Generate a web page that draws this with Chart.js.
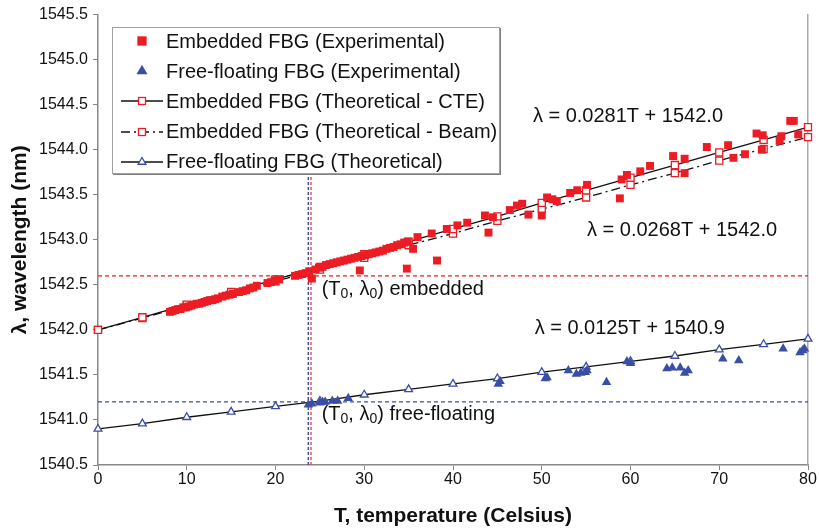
<!DOCTYPE html>
<html>
<head>
<meta charset="utf-8">
<script src="https://cdn.jsdelivr.net/npm/chart.js@4.4.1/dist/chart.umd.min.js"></script>
<style>
  html, body { margin: 0; padding: 0; background: #fff; }
  #wrap { position: relative; width: 819px; height: 529px; }
  #legend {
    position: absolute; left: 112px; top: 27px; width: 386px; height: 145px; z-index: 2;
    background: #fff; border: 1px solid #a0a0a0; box-shadow: 1px 1px 0 #808080;
    font-family: "Liberation Sans", Arial, sans-serif; font-size: 20px; color: #111;
  }
  .row { position: absolute; left: 6px; height: 30px; display: flex; align-items: center; white-space: nowrap; }
  .row svg { width: 46px; height: 20px; margin-right: 1px; }
</style>
</head>
<body>
<div id="wrap">
  <canvas id="fbg-graph" width="819" height="529"></canvas>
  <div id="legend"></div>
</div>
<script>
// embedded FBG, experimental
const embExpT = [8.1, 8.4, 8.7, 9.0, 9.3, 9.6, 9.9, 10.2, 10.5, 10.8, 11.1, 11.4, 11.7, 12.0, 12.3, 12.6, 12.9, 13.2, 13.5,
  14.0, 14.4, 14.8, 15.2, 15.9, 16.3, 16.7, 17.1, 17.5, 17.9, 19.1, 19.5, 19.9, 20.4, 22.2, 22.6, 23.0, 23.4, 23.8, 24.1,
  24.5, 24.9, 25.3, 25.7, 26.1, 26.5, 26.9, 27.3, 27.7, 28.1, 28.5, 28.9, 29.3, 29.7, 30.1, 30.5, 30.9, 31.3, 31.7,
  32.1, 32.5, 32.9, 33.3, 33.7, 34.1, 34.5, 34.9, 29.5, 34.8, 38.2, 35.5, 36.0, 37.6, 39.3, 40.5, 41.6, 43.6, 44.0,
  44.5, 46.4, 47.2, 47.8, 48.5, 50.0, 50.6, 51.2, 51.7, 53.2, 54.0, 55.1, 58.8, 59.0, 59.6, 61.1, 62.2, 64.8, 66.1,
  66.1, 68.6, 71.0, 71.6, 72.9, 74.2, 74.9, 74.8, 76.8, 77.0, 78.0, 78.4, 78.9];
const embExpL = [1542.20, 1542.21, 1542.22, 1542.23, 1542.23, 1542.25, 1542.25, 1542.26, 1542.27, 1542.28, 1542.29, 1542.29, 1542.30, 1542.31, 1542.32, 1542.33, 1542.33, 1542.34, 1542.35,
  1542.37, 1542.38, 1542.39, 1542.40, 1542.42, 1542.43, 1542.44, 1542.46, 1542.47, 1542.49, 1542.52, 1542.53, 1542.55, 1542.56, 1542.60, 1542.61, 1542.62, 1542.63, 1542.65, 1542.57,
  1542.67, 1542.69, 1542.70, 1542.72, 1542.73, 1542.74, 1542.75, 1542.76, 1542.77, 1542.78, 1542.79, 1542.80, 1542.81, 1542.82, 1542.83, 1542.84, 1542.85, 1542.86, 1542.87,
  1542.88, 1542.90, 1542.91, 1542.92, 1542.94, 1542.95, 1542.97, 1542.98, 1542.66, 1542.68, 1542.77, 1542.90, 1543.03, 1543.07, 1543.12, 1543.16, 1543.19, 1543.27, 1543.08,
  1543.25, 1543.33, 1543.38, 1543.40, 1543.28, 1543.27, 1543.47, 1543.45, 1543.43, 1543.52, 1543.55, 1543.61, 1543.46, 1543.67, 1543.72, 1543.76, 1543.82, 1543.93, 1543.90,
  1543.74, 1544.03, 1544.05, 1543.91, 1543.95, 1544.18, 1544.16, 1544.00, 1544.10, 1544.15, 1544.32, 1544.32, 1544.17];

// free-floating FBG, experimental
const freeExpT = [23.7, 24.1, 25.0, 25.3, 25.6, 26.4, 27.0, 28.2, 45.1, 45.3, 50.4, 50.6, 53.0, 53.9, 54.4, 54.9, 55.1,
  57.3, 59.6, 60.0, 64.1, 64.7, 65.6, 66.1, 66.5, 70.4, 72.2, 77.2, 79.1, 79.4, 79.6];
const freeExpL = [1541.17, 1541.18, 1541.19, 1541.20, 1541.20, 1541.21, 1541.21, 1541.24, 1541.40, 1541.43, 1541.46, 1541.47, 1541.55, 1541.51, 1541.52, 1541.53, 1541.55,
  1541.42, 1541.65, 1541.63, 1541.57, 1541.58, 1541.58, 1541.52, 1541.55, 1541.68, 1541.66, 1541.79, 1541.75, 1541.77, 1541.79];

// theoretical curves
const theoT = [0, 5, 10, 15, 20, 25, 30, 35, 40, 45, 50, 55, 60, 65, 70, 75, 80];
const cteL = [1542.00, 1542.14, 1542.28, 1542.42, 1542.56, 1542.70, 1542.84, 1542.98, 1543.12, 1543.26, 1543.41, 1543.55, 1543.69, 1543.83, 1543.97, 1544.11, 1544.25];
const beamL = [1542.00, 1542.13, 1542.27, 1542.40, 1542.54, 1542.67, 1542.80, 1542.94, 1543.07, 1543.21, 1543.34, 1543.47, 1543.61, 1543.74, 1543.88, 1544.01, 1544.14];
const freeTheoL = [1540.90, 1540.96, 1541.03, 1541.09, 1541.15, 1541.21, 1541.28, 1541.34, 1541.40, 1541.46, 1541.53, 1541.59, 1541.65, 1541.71, 1541.78, 1541.84, 1541.90];

// reference point (T0, lambda0)
const t0Emb = 24.0, l0Emb = 1542.6;
const t0Free = 23.7, l0Free = 1541.2;
const vLineTop = 1543.8;

const xMin = 0, xMax = 80, xStep = 10;
const yMin = 1540.5, yMax = 1545.5, yStep = 0.5;

const notes = [
  { t: 49.0, l: 1544.37, parts: [["λ = 0.0281T + 1542.0"]] },
  { t: 55.1, l: 1543.10, parts: [["λ = 0.0268T + 1542.0"]] },
  { t: 49.2, l: 1542.02, parts: [["λ = 0.0125T + 1540.9"]] },
  { t: 25.2, l: 1542.45, parts: [["(T"], ["0", 1], [", λ"], ["0", 1], [") embedded"]] },
  { t: 25.2, l: 1541.06, parts: [["(T"], ["0", 1], [", λ"], ["0", 1], [") free-floating"]] }
];

const RED = "#ec1c24";
const BLUE = "#3a4ea6";
const FONT = "'Liberation Sans', Arial, sans-serif";

function pts(xs, ys) { return xs.map((x, i) => ({ x: x, y: ys[i] })); }

const notesPlugin = {
  id: "notes",
  afterDatasetsDraw(chart) {
    const ctx = chart.ctx, xs = chart.scales.x, ys = chart.scales.y;
    ctx.save();
    ctx.fillStyle = "#111";
    ctx.textBaseline = "middle";
    notes.forEach(n => {
      let px = xs.getPixelForValue(n.t);
      const py = ys.getPixelForValue(n.l);
      n.parts.forEach(p => {
        const sub = p[1] === 1;
        ctx.font = (sub ? "14px " : "20px ") + FONT;
        ctx.fillText(p[0], px, sub ? py + 5 : py);
        px += ctx.measureText(p[0]).width;
      });
    });
    ctx.restore();
  }
};

const canvas = document.getElementById("fbg-graph");
const chart = new Chart(canvas.getContext("2d"), {
  type: "scatter",
  data: {
    datasets: [
      { label: "Embedded FBG (Experimental)", data: pts(embExpT, embExpL), showLine: false,
        pointStyle: "rect", pointRadius: 5.6, backgroundColor: RED, borderColor: RED, borderWidth: 0 },
      { label: "Free-floating FBG (Experimental)", data: pts(freeExpT, freeExpL), showLine: false,
        pointStyle: "triangle", pointRadius: 5.5, backgroundColor: BLUE, borderColor: BLUE, borderWidth: 0 },
      { label: "Embedded FBG (Theoretical - CTE)", data: pts(theoT, cteL), showLine: true,
        borderColor: "#111", borderWidth: 1.3, pointStyle: "rect", pointRadius: 5,
        pointBackgroundColor: "#fff", pointBorderColor: RED, pointBorderWidth: 1.3 },
      { label: "Embedded FBG (Theoretical - Beam)", data: pts(theoT, beamL), showLine: true,
        borderColor: "#111", borderWidth: 1.3, borderDash: [9, 4, 2, 4], pointStyle: "rect", pointRadius: 5,
        pointBackgroundColor: "#fff", pointBorderColor: RED, pointBorderWidth: 1.3 },
      { label: "Free-floating FBG (Theoretical)", data: pts(theoT, freeTheoL), showLine: true,
        borderColor: "#111", borderWidth: 1.3, pointStyle: "triangle", pointRadius: 4.5,
        pointBackgroundColor: "#fff", pointBorderColor: BLUE, pointBorderWidth: 1.3 },
      { label: "ref1", data: [{ x: xMin, y: l0Emb }, { x: xMax, y: l0Emb }], showLine: true,
        borderColor: RED, borderWidth: 1.2, borderDash: [4, 3], pointRadius: 0 },
      { label: "ref2", data: [{ x: xMin, y: l0Free }, { x: xMax, y: l0Free }], showLine: true,
        borderColor: BLUE, borderWidth: 1.2, borderDash: [4, 3], pointRadius: 0 },
      { label: "ref3", data: [{ x: t0Emb, y: yMin }, { x: t0Emb, y: vLineTop }], showLine: true,
        borderColor: "#f0525a", borderWidth: 1.5, borderDash: [3, 2], pointRadius: 0 },
      { label: "ref4", data: [{ x: t0Free, y: yMin }, { x: t0Free, y: vLineTop }], showLine: true,
        borderColor: BLUE, borderWidth: 1.5, borderDash: [3, 2], pointRadius: 0 }
    ]
  },
  options: {
    responsive: false,
    animation: false,
    clip: false,
    layout: { padding: { top: 10, left: 0, right: 0, bottom: 0 } },
    plugins: { legend: { display: false }, tooltip: { enabled: false } },
    scales: {
      x: {
        type: "linear", min: xMin, max: xMax,
        ticks: { stepSize: xStep, color: "#111", font: { size: 16, family: FONT }, padding: 0 },
        grid: { drawOnChartArea: false, drawTicks: true, tickLength: 5, color: "#888" },
        border: { color: "#888", width: 1.5 },
        title: { display: true, text: "T, temperature (Celsius)", color: "#111",
          font: { size: 21, weight: "bold", family: FONT }, padding: { top: 4, bottom: 0 } },
        afterFit(s) { s.height = 64; }
      },
      y: {
        type: "linear", min: yMin, max: yMax,
        ticks: { stepSize: yStep, color: "#111", font: { size: 16, family: FONT }, padding: 5,
          callback: v => v.toFixed(1) },
        grid: { drawOnChartArea: false, drawTicks: true, tickLength: 5, color: "#888" },
        border: { color: "#888", width: 1.5 },
        title: { display: true, text: "λ, wavelength (nm)", color: "#111",
          font: { size: 21, weight: "bold", family: FONT }, padding: { top: 8, bottom: 0 } },
        afterFit(s) { s.width = 98; }
      },
      y2: {
        type: "linear", position: "right", min: yMin, max: yMax,
        ticks: { display: false }, grid: { display: false },
        border: { color: "#aaa", width: 1.5 },
        afterFit(s) { s.width = 11; }
      }
    }
  },
  plugins: [notesPlugin]
});

// legend box drawn from the first five datasets
function legendSymbol(ds) {
  const line = ds.showLine
    ? `<line x1="2" y1="10" x2="44" y2="10" stroke="${ds.borderColor}" stroke-width="1.6"` +
      (ds.borderDash ? ` stroke-dasharray="${ds.borderDash.join(" ")}"` : "") + `/>` : "";
  const fill = ds.showLine ? "#fff" : ds.backgroundColor;
  const stroke = ds.showLine ? ds.pointBorderColor : ds.backgroundColor;
  let mark;
  if (ds.pointStyle === "rect") {
    const s = ds.showLine ? 7 : 8;
    mark = `<rect x="${23 - s / 2}" y="${10 - s / 2}" width="${s}" height="${s}" fill="${fill}" stroke="${stroke}" stroke-width="1.3"/>`;
  } else {
    const r = ds.showLine ? 4.5 : 5;
    mark = `<polygon points="23,${10 - r} ${23 + r * 0.87},${10 + r / 2} ${23 - r * 0.87},${10 + r / 2}" fill="${fill}" stroke="${stroke}" stroke-width="1.3"/>`;
  }
  return `<svg viewBox="0 0 46 20">${line}${mark}</svg>`;
}
const legendEl = document.getElementById("legend");
chart.data.datasets.slice(0, 5).forEach((ds, i) => {
  const row = document.createElement("div");
  row.className = "row";
  row.style.top = (-2 + i * 30.2) + "px";
  row.innerHTML = legendSymbol(ds) + "<span>" + ds.label + "</span>";
  legendEl.appendChild(row);
});
</script>
</body>
</html>
